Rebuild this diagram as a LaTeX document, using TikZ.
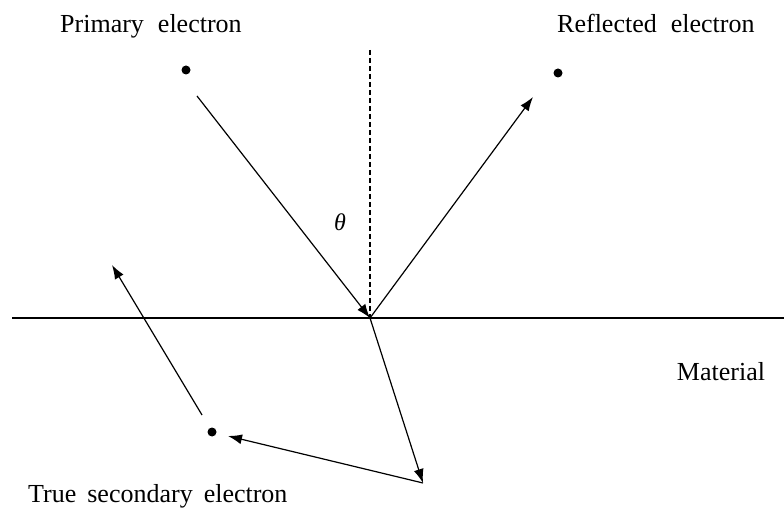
\documentclass[tikz,border=0pt]{standalone}
\usepackage{fontspec}
\setmainfont{Liberation Serif}
\usetikzlibrary{arrows.meta}
\tikzset{
  lbl/.style={anchor=base west, inner sep=0pt, font=\fontsize{26}{30}\selectfont},
  dot/.style={circle, fill=black, inner sep=0pt, minimum size=9pt},
  ray/.style={line width=1.2pt, -{Latex[length=14pt,width=10pt]}},
  surf/.style={line width=1.2pt},
  normal/.style={line width=1.1pt, dash pattern=on 5pt off 3pt}
}
\newcommand{\ws}{\hspace{14pt}}
\newcommand{\wss}{\hspace{11pt}}
\begin{document}
\begin{tikzpicture}[x=1pt,y=-1pt]
\useasboundingbox (0,0) rectangle (784,510);
% texts
\node[lbl] (tprim) at (60,33) {Primary\ws electron};
\node[lbl] (trefl) at (557,33) {Reflected\ws electron};
\node[lbl, anchor=base] (tmat) at (721,380) {Material};
\node[lbl] (tsec) at (28,502) {True\wss secondary\wss electron};
\node[inner sep=0pt, font=\fontsize{24}{28}\selectfont\itshape] (theta) at (340,222) {θ};
% dots
\node[dot] (dprim) at (186,70) {};
\node[dot] (drefl) at (558,73) {};
\node[dot] (dsec) at (212,432) {};
% points
\coordinate (hit) at (370,318);
\coordinate (sl) at (12,318);
\coordinate (sr) at (784,318);
\coordinate (ntop) at (370,50);
\coordinate (pstart) at (197,96);
\coordinate (rend) at (533,97);
\coordinate (deep) at (423,483);
\coordinate (secarr) at (228,436);
\coordinate (sstart) at (202,415);
\coordinate (send) at (112,265);
% lines
\draw[surf] (sl) -- (sr);
\draw[normal] (ntop) -- (hit);
\draw[ray] (pstart) -- (hit);
\draw[ray] (hit) -- (rend);
\draw[ray] (hit) -- (deep);
\draw[ray] (deep) -- (secarr);
\draw[ray] (sstart) -- (send);
\end{tikzpicture}
\end{document}
